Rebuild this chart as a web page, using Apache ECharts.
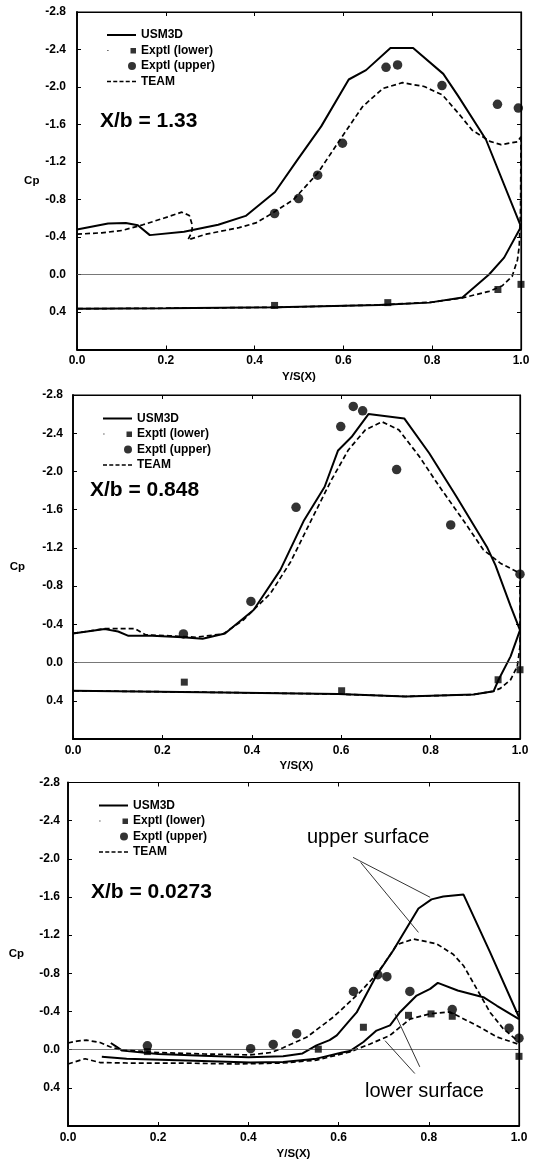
<!DOCTYPE html>
<html>
<head>
<meta charset="utf-8">
<script src="https://cdn.jsdelivr.net/npm/echarts@6/dist/echarts.min.js"></script>
<style>
html, body { margin: 0; padding: 0; background: #fff; }
#chart { width: 536px; height: 1161px; }
</style>
</head>
<body>
<div id="chart"></div>
<script>
// Cp 沿展向分布，三个站位 X/b
// --- X/b = 1.33 ---
var usmUpperA = [[0, -0.48], [0.07, -0.545], [0.11, -0.55], [0.137, -0.525], [0.164, -0.42], [0.241, -0.455], [0.318, -0.53], [0.38, -0.625], [0.446, -0.88], [0.496, -1.22], [0.55, -1.58], [0.612, -2.08], [0.651, -2.18], [0.706, -2.415], [0.757, -2.415], [0.825, -2.14], [0.859, -1.9], [0.921, -1.44], [1.0, -0.51]];
var usmLowerA = [[1.0, -0.51], [0.962, -0.18], [0.928, 0.0], [0.868, 0.245], [0.793, 0.3], [0.68, 0.325], [0.45, 0.35], [0.2, 0.36], [0, 0.365]];
var teamUpperA = [[0, -0.43], [0.056, -0.445], [0.102, -0.47], [0.148, -0.53], [0.195, -0.6], [0.236, -0.665], [0.253, -0.63], [0.26, -0.52], [0.258, -0.445], [0.25, -0.37], [0.291, -0.43], [0.365, -0.5], [0.403, -0.55], [0.442, -0.66], [0.488, -0.8], [0.542, -1.08], [0.597, -1.47], [0.643, -1.79], [0.689, -1.985], [0.733, -2.046], [0.782, -2.005], [0.823, -1.915], [0.859, -1.72], [0.89, -1.54], [0.93, -1.42], [0.955, -1.385], [0.992, -1.416], [1.0, -1.47]];
var teamLowerA = [[1.0, -1.47], [0.999, -0.7], [0.996, -0.3], [0.992, -0.155], [0.98, 0.02], [0.958, 0.12], [0.928, 0.18], [0.868, 0.25], [0.8, 0.295], [0.68, 0.325], [0.45, 0.35], [0.2, 0.36], [0, 0.365]];
var exptUpperA = [[0.445, -0.65], [0.499, -0.81], [0.542, -1.06], [0.598, -1.4], [0.696, -2.21], [0.722, -2.235], [0.822, -2.015], [0.947, -1.815], [0.994, -1.775]];
var exptLowerA = [[0.445, 0.33], [0.7, 0.3], [0.948, 0.16], [1.0, 0.105]];

// --- X/b = 0.848 ---
var usmUpperB = [[0, -0.305], [0.071, -0.35], [0.101, -0.325], [0.124, -0.28], [0.177, -0.28], [0.245, -0.265], [0.29, -0.25], [0.34, -0.305], [0.404, -0.55], [0.464, -0.97], [0.517, -1.49], [0.563, -1.84], [0.593, -2.22], [0.623, -2.36], [0.661, -2.6], [0.741, -2.555], [0.797, -2.19], [0.858, -1.735], [0.926, -1.21], [0.945, -1.02], [0.979, -0.59], [1.0, -0.34]];
var usmLowerB = [[1.0, -0.34], [0.979, -0.065], [0.952, 0.18], [0.941, 0.3], [0.896, 0.335], [0.744, 0.355], [0.593, 0.33], [0.29, 0.31], [0, 0.295]];
var teamUpperB = [[0, -0.305], [0.071, -0.355], [0.139, -0.355], [0.162, -0.29], [0.215, -0.28], [0.275, -0.265], [0.336, -0.3], [0.381, -0.445], [0.442, -0.725], [0.487, -1.055], [0.533, -1.49], [0.578, -1.91], [0.616, -2.225], [0.654, -2.435], [0.691, -2.52], [0.729, -2.435], [0.775, -2.155], [0.82, -1.84], [0.873, -1.49], [0.918, -1.18], [0.956, -1.04], [1.0, -0.935]];
var teamLowerB = [[1.0, -0.935], [1.0, -0.17], [0.994, 0.04], [0.979, 0.18], [0.956, 0.27], [0.941, 0.3], [0.896, 0.335], [0.744, 0.355], [0.593, 0.33], [0.29, 0.31], [0, 0.295]];
var exptUpperB = [[0.247, -0.3], [0.398, -0.64], [0.499, -1.625], [0.599, -2.47], [0.627, -2.68], [0.648, -2.635], [0.724, -2.02], [0.845, -1.44], [1.0, -0.925]];
var exptLowerB = [[0.249, 0.205], [0.601, 0.295], [0.951, 0.18], [1.0, 0.075]];

// --- X/b = 0.0273 ---
var usmUpperC = [[0.095, -0.07], [0.108, -0.03], [0.12, 0.01], [0.2, 0.045], [0.3, 0.065], [0.4, 0.08], [0.477, 0.07], [0.52, 0.04], [0.551, -0.045], [0.58, -0.1], [0.596, -0.15], [0.625, -0.31], [0.64, -0.39], [0.684, -0.78], [0.721, -1.04], [0.777, -1.48], [0.806, -1.575], [0.832, -1.605], [0.877, -1.625], [0.936, -1.02], [1.0, -0.34]];
var usmLowerC = [[0.075, 0.075], [0.13, 0.095], [0.28, 0.115], [0.404, 0.135], [0.477, 0.128], [0.551, 0.094], [0.608, 0.03], [0.625, 0.015], [0.655, -0.08], [0.684, -0.2], [0.714, -0.254], [0.736, -0.393], [0.773, -0.567], [0.803, -0.637], [0.82, -0.7], [0.864, -0.62], [0.921, -0.55], [0.951, -0.46], [1.0, -0.32]];
var teamUpperC = [[0, -0.07], [0.02, -0.09], [0.041, -0.1], [0.071, -0.075], [0.093, -0.03], [0.115, 0.0], [0.2, 0.03], [0.3, 0.045], [0.404, 0.055], [0.45, 0.03], [0.477, -0.02], [0.529, -0.13], [0.588, -0.34], [0.647, -0.6], [0.684, -0.79], [0.714, -0.99], [0.729, -1.1], [0.766, -1.16], [0.817, -1.11], [0.854, -1.0], [0.877, -0.88], [0.906, -0.64], [0.936, -0.39], [0.965, -0.22], [0.995, -0.1], [1.0, -0.08]];
var teamLowerC = [[0, 0.15], [0.038, 0.095], [0.071, 0.135], [0.13, 0.14], [0.25, 0.14], [0.374, 0.15], [0.477, 0.14], [0.551, 0.11], [0.625, 0.024], [0.67, -0.06], [0.714, -0.15], [0.758, -0.32], [0.803, -0.376], [0.847, -0.395], [0.906, -0.254], [0.951, -0.133], [0.995, -0.063], [1.0, -0.05]];
var exptUpperC = [[0.176, -0.04], [0.405, -0.01], [0.455, -0.055], [0.507, -0.167], [0.633, -0.61], [0.687, -0.785], [0.707, -0.765], [0.758, -0.61], [0.852, -0.42], [0.978, -0.225], [1.0, -0.12]];
var exptLowerC = [[0.176, 0.02], [0.555, -0.005], [0.655, -0.235], [0.755, -0.36], [0.805, -0.375], [0.852, -0.35], [1.0, 0.07]];
// 引线 (upper surface / lower surface)
var leadersC = [
  [[0.632, -2.015], [0.803, -1.597]],
  [[0.649, -1.962], [0.777, -1.229]],
  [[0.78, 0.18], [0.725, -0.376]],
  [[0.769, 0.25], [0.703, -0.094]]
];

var FONT = "'Liberation Sans', Arial, Helvetica, sans-serif";
// 图例图标：29x8 的框，四角极小点固定包围盒
var BOX = 'M0,0h0.01v0.01h-0.01z M28.99,7.99h0.01v0.01h-0.01z ';
var ICON_LINE = 'path://' + BOX + 'M0,3.1h29v1.8h-29z';
var ICON_DASH = 'path://' + BOX + 'M0,3.2h4v1.6h-4z M6.25,3.2h4v1.6h-4z M12.5,3.2h4v1.6h-4z M18.75,3.2h4v1.6h-4z M25,3.2h4v1.6h-4z';
var ICON_SQ = 'path://' + BOX + 'M0.3,3.4h1.2v1.2h-1.2z M23.5,1.5h5.5v5.5h-5.5z';
var ICON_DOT = 'path://' + BOX + 'M29,4a4,4 0 1,1 -8,0a4,4 0 1,1 8,0z';

var panels = [
  { title: 'X/b = 1.33', grid: { left: 77, top: 12, width: 444, height: 337.5 }, titlePos: [100, 111], legendPos: [107, 29], cpGap: 37, xMargin: 5, xNameGap: 21, yMargin: 11,
    usmU: usmUpperA, usmL: usmLowerA, teamU: teamUpperA, teamL: teamLowerA, expU: exptUpperA, expL: exptLowerA },
  { title: 'X/b = 0.848', grid: { left: 73, top: 395, width: 447, height: 344 }, titlePos: [90, 479.5], legendPos: [103, 412.5], cpGap: 48, xMargin: 5.5, xNameGap: 21, yMargin: 10,
    usmU: usmUpperB, usmL: usmLowerB, teamU: teamUpperB, teamL: teamLowerB, expU: exptUpperB, expL: exptLowerB },
  { title: 'X/b = 0.0273', grid: { left: 68, top: 782.5, width: 451, height: 345 }, titlePos: [91, 882], legendPos: [99, 799.5], cpGap: 44, xMargin: 6, xNameGap: 22, yMargin: 8,
    usmU: usmUpperC, usmL: usmLowerC, teamU: teamUpperC, teamL: teamLowerC, expU: exptUpperC, expL: exptLowerC, leaders: leadersC }
];

var boldText = { color: '#000', fontWeight: 'bold', fontSize: 11.5, fontFamily: FONT };
var tickText = { color: '#000', fontWeight: 'bold', fontSize: 12, fontFamily: FONT };
var tick = { show: true, inside: true, length: 4, lineStyle: { color: '#000', width: 1 } };

var grids = [], xAxes = [], yAxes = [], series = [], legends = [], titles = [];

panels.forEach(function (p, i) {
  grids.push({ left: p.grid.left, top: p.grid.top, width: p.grid.width, height: p.grid.height, show: true, borderColor: '#000', borderWidth: 1.2 });
  xAxes.push({
    gridIndex: i, type: 'value', min: 0, max: 1, interval: 0.2, position: 'bottom',
    name: 'Y/S(X)', nameLocation: 'middle', nameGap: p.xNameGap, nameTextStyle: boldText,
    axisLine: { show: true, onZero: false, lineStyle: { color: '#000', width: 1.8 } },
    axisTick: tick, splitLine: { show: false },
    axisLabel: Object.assign({ margin: p.xMargin, formatter: function (v) { return v.toFixed(1); } }, tickText)
  });
  xAxes.push({
    gridIndex: i, type: 'value', min: 0, max: 1, interval: 0.2, position: 'top',
    axisLine: { show: true, onZero: false, lineStyle: { color: '#000', width: 1.2 } },
    axisTick: tick, axisLabel: { show: false }, splitLine: { show: false }
  });
  yAxes.push({
    gridIndex: i, type: 'value', min: -2.8, max: 0.8, interval: 0.4, inverse: true, position: 'left',
    name: 'Cp', nameLocation: 'middle', nameRotate: 0, nameGap: p.cpGap, nameTextStyle: boldText,
    axisLine: { show: true, onZero: false, lineStyle: { color: '#000', width: 1.8 } },
    axisTick: tick, splitLine: { show: false },
    axisLabel: Object.assign({ margin: p.yMargin, formatter: function (v) { return v > 0.6 ? '' : v.toFixed(1); } }, tickText)
  });
  yAxes.push({
    gridIndex: i, type: 'value', min: -2.8, max: 0.8, interval: 0.4, inverse: true, position: 'right',
    axisLine: { show: true, onZero: false, lineStyle: { color: '#000', width: 1.2 } },
    axisTick: tick, axisLabel: { show: false }, splitLine: { show: false }
  });

  var xi = 2 * i, yi = 2 * i;
  var solid = { color: '#000', width: 2 };
  var dashed = { color: '#000', width: 1.7, type: [5, 3] };
  series.push({
    name: 'USM3D', type: 'line', xAxisIndex: xi, yAxisIndex: yi, data: p.usmU, symbol: 'none', lineStyle: solid, itemStyle: { color: '#000' },
    markLine: { silent: true, symbol: ['none', 'none'], label: { show: false }, lineStyle: { color: '#555', width: 0.8, type: 'solid' }, data: [{ yAxis: 0 }] }
  });
  series.push({ name: 'USM3D', type: 'line', xAxisIndex: xi, yAxisIndex: yi, data: p.usmL, symbol: 'none', lineStyle: solid, itemStyle: { color: '#000' } });
  series.push({ name: 'TEAM', type: 'line', xAxisIndex: xi, yAxisIndex: yi, data: p.teamU, symbol: 'none', lineStyle: dashed, itemStyle: { color: '#000' } });
  var teamLow = { name: 'TEAM', type: 'line', xAxisIndex: xi, yAxisIndex: yi, data: p.teamL, symbol: 'none', lineStyle: dashed, itemStyle: { color: '#000' } };
  if (p.leaders) {
    teamLow.markLine = {
      silent: true, symbol: ['none', 'none'], label: { show: false }, lineStyle: { color: '#000', width: 0.8, type: 'solid' },
      data: p.leaders.map(function (l) { return [{ coord: l[0] }, { coord: l[1] }]; })
    };
  }
  series.push(teamLow);
  series.push({ name: 'Exptl (lower)', type: 'scatter', xAxisIndex: xi, yAxisIndex: yi, data: p.expL, symbol: 'rect', symbolSize: 7, itemStyle: { color: '#000' }, z: 5 });
  series.push({ name: 'Exptl (upper)', type: 'scatter', xAxisIndex: xi, yAxisIndex: yi, data: p.expU, symbol: 'circle', symbolSize: 9.5, itemStyle: { color: '#000' }, z: 5 });

  legends.push({
    orient: 'vertical', left: p.legendPos[0], top: p.legendPos[1], padding: 0, itemGap: 3.5,
    itemWidth: 29, itemHeight: 8, selectedMode: false,
    textStyle: { color: '#000', fontWeight: 'bold', fontSize: 12, fontFamily: FONT, lineHeight: 12 },
    data: [
      { name: 'USM3D', icon: ICON_LINE },
      { name: 'Exptl (lower)', icon: ICON_SQ },
      { name: 'Exptl (upper)', icon: ICON_DOT },
      { name: 'TEAM', icon: ICON_DASH }
    ]
  });
  titles.push({
    text: p.title, left: p.titlePos[0], top: p.titlePos[1], padding: 0,
    textStyle: { color: '#000', fontWeight: 'bold', fontSize: 21, fontFamily: FONT, lineHeight: 21 }
  });
});

var chart = echarts.init(document.getElementById('chart'));
chart.setOption({
  animation: false,
  backgroundColor: '#fff',
  title: titles,
  legend: legends,
  grid: grids,
  xAxis: xAxes,
  yAxis: yAxes,
  series: series,
  graphic: [
    { type: 'text', left: 307, top: 827, style: { text: 'upper surface', fontSize: 20, fontFamily: FONT, fill: '#000' } },
    { type: 'text', left: 365, top: 1081, style: { text: 'lower surface', fontSize: 20, fontFamily: FONT, fill: '#000' } }
  ]
});
window.addEventListener('resize', function () { chart.resize(); });
</script>
</body>
</html>
